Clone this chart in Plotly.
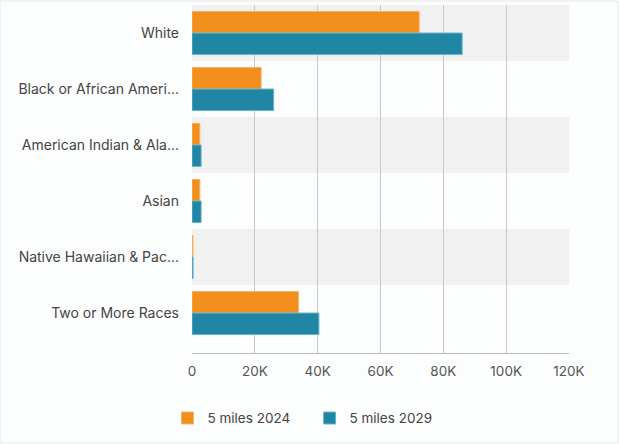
import plotly.graph_objects as go

categories = ["White", "Black or African Ameri...", "American Indian & Ala...", "Asian",
              "Native Hawaiian & Pac...", "Two or More Races"]
series_2024 = [72300, 22000, 2500, 2500, 300, 33900]
series_2029 = [86000, 26000, 2900, 2900, 350, 40400]
name_2024 = "5 miles 2024"
name_2029 = "5 miles 2029"
tick_vals = [0, 20000, 40000, 60000, 80000, 100000, 120000]
tick_text = ["0", "20K", "40K", "60K", "80K", "100K", "120K"]

n = len(categories)
fig = go.Figure()
fig.add_trace(go.Bar(y=categories, x=series_2024, orientation="h", name=name_2024,
                     marker=dict(color="#F28E1C", line=dict(color="#F7B36A", width=1))))
fig.add_trace(go.Bar(y=categories, x=series_2029, orientation="h", name=name_2029,
                     marker=dict(color="#1F86A4", line=dict(color="#6FB3C9", width=1))))

shapes = []
for i in range(n):
    if i % 2 == 0:
        shapes.append(dict(type="rect", xref="paper", yref="y", x0=0, x1=1,
                           y0=i - 0.5, y1=i + 0.5, fillcolor="#F1F1F1",
                           line=dict(width=0), layer="below"))
shapes.append(dict(type="rect", xref="paper", yref="paper", x0=-192/377, x1=1 + 49/377,
                   y0=-90/348, y1=1 + 4/348, line=dict(color="#E6E9EA", width=1),
                   fillcolor="rgba(0,0,0,0)", layer="below"))

fig.update_layout(
    width=619, height=444,
    margin=dict(l=192, r=50, t=5, b=91),
    paper_bgcolor="#FCFDFD", plot_bgcolor="rgba(0,0,0,0)",
    barmode="group", bargap=0.23, bargroupgap=0,
    font=dict(family="Inter, Roboto, sans-serif", size=13.5, color="#555555"),
    shapes=shapes,
    showlegend=True,
    legend=dict(orientation="h", xref="container", x=0.5, xanchor="center",
                yref="container", y=0.058, yanchor="middle",
                font=dict(size=13.5, color="#444444"), itemwidth=30,
                entrywidth=97, entrywidthmode="pixels",
                traceorder="normal"),
    xaxis=dict(range=[0, 120000], tickvals=tick_vals, ticktext=tick_text,
               showgrid=True, gridcolor="#C8C8C8", gridwidth=1, zeroline=False,
               showline=True, linecolor="#BBBBBB", ticks="", fixedrange=True,
               ticklabelstandoff=6,
               tickfont=dict(size=13.5, color="#555555")),
    yaxis=dict(range=[n - 0.5 + 12/56, -0.5], showgrid=False, ticks="", ticklabelstandoff=12,
               tickfont=dict(size=14, color="#444444")),
)

fig.write_html("out.html")
